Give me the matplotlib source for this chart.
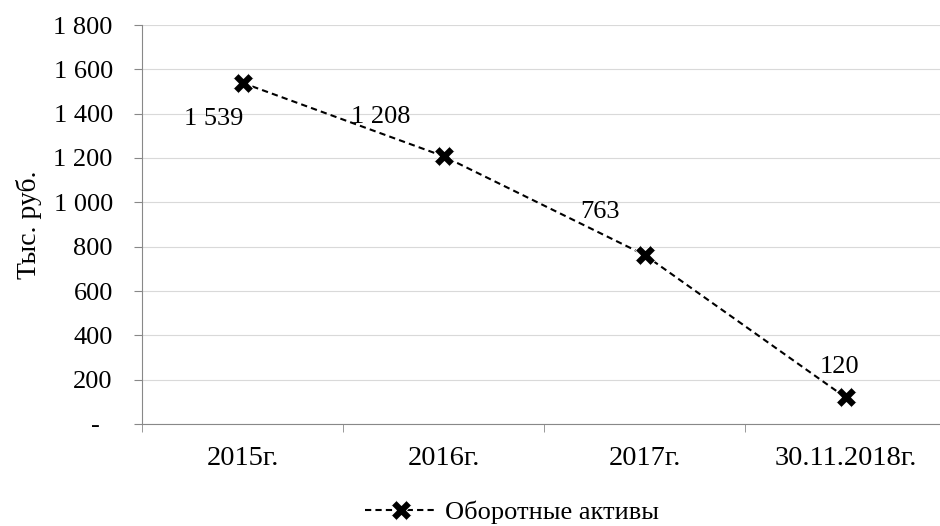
import numpy as np
import matplotlib.pyplot as plt
from matplotlib.ticker import FuncFormatter, FixedLocator

# data
categories = ["2015г.", "2016г.", "2017г.", "30.11.2018г."]
values = [1539, 1208, 763, 120]
labels = ["1 539", "1 208", "763", "120"]
series_name = "Оборотные активы"

plt.rcParams['font.family'] = ['Liberation Serif', 'DejaVu Serif']
FS = 19

fig = plt.figure(figsize=(9.4, 5.26), dpi=100)
ax = fig.add_axes([142 / 940, 1 - 424 / 526, (940 - 142) / 940, 399 / 526])

x = np.arange(len(categories))
line, = ax.plot(x, values, linestyle=(0, (3, 2)), color='black', linewidth=1.5,
                marker='X', markersize=14, markerfacecolor='black', markeredgecolor='white',
                markeredgewidth=0.6, label=series_name)

# data labels (offsets in points, label centre relative to the point)
offsets = [(-21, -26), (-45, 28), (-32, 31), (-4, 22)]
for xi, v, lab, off in zip(x, values, labels, offsets):
    ax.annotate(lab, (xi, v), xytext=off, textcoords='offset points',
                ha='center', va='center', fontsize=FS)

ax.set_ylim(0, 1800)
ax.set_xlim(-0.5, 3.47)
ax.set_yticks(np.arange(0, 1801, 200))


def fmt(v, pos):
    # accounting style: zero shown as a dash
    if v == 0:
        return "-  "
    return f"{int(v):,}".replace(",", " ")


ax.yaxis.set_major_formatter(FuncFormatter(fmt))
ax.set_xticks(x)
ax.set_xticklabels(categories)
ax.xaxis.set_minor_locator(FixedLocator([-0.5, 0.5, 1.5, 2.5]))
ax.tick_params(axis='x', which='major', length=0, pad=16, labelsize=20.5)
ax.tick_params(axis='x', which='minor', length=6, color='#888888', direction='out')
ax.tick_params(axis='y', length=6, color='#888888', direction='out', pad=15, labelsize=FS)

ax.grid(axis='y', color='#d9d9d9', linewidth=0.8)
ax.set_axisbelow(True)
for s in ['top', 'right']:
    ax.spines[s].set_visible(False)
ax.spines['left'].set_color('#888888')
ax.spines['bottom'].set_color('#888888')

ax.set_ylabel("Тыс. руб.", fontsize=20)
ax.yaxis.set_label_coords(-100 / 798, 0.5)

fig.legend(handles=[line], loc='center', bbox_to_anchor=(512 / 940, 1 - 512 / 526),
           frameon=False, fontsize=FS, handlelength=2.7, handletextpad=0.3)

fig.savefig("out.png", dpi=100)
